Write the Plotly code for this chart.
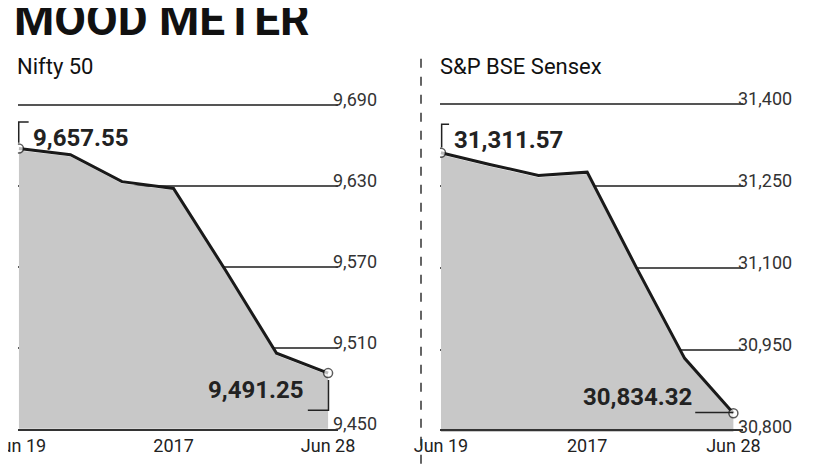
import plotly.graph_objects as go

dates = ["Jun 19", "Jun 20", "Jun 21", "Jun 22", "Jun 23", "Jun 27", "Jun 28"]
nifty = [9657.55, 9653, 9633, 9628, 9568, 9506, 9491.25]
sensex = [31311.57, 31290, 31270, 31276, 31103, 30935, 30834.32]
nifty_ticks = [9450, 9510, 9570, 9630, 9690]
sensex_ticks = [30800, 30950, 31100, 31250, 31400]
xtick_vals = ["Jun 19", "Jun 22", "Jun 28"]
xtick_text = ["Jun 19", "2017", "Jun 28"]

F = "Roboto, Liberation Sans, sans-serif"
fig = go.Figure()
for i, (vals, ticks) in enumerate([(nifty, nifty_ticks), (sensex, sensex_ticks)]):
    xa = "x" if i == 0 else "x2"
    ya = "y" if i == 0 else "y2"
    fig.add_trace(go.Scatter(x=dates, y=[v - (ticks[-1]-ticks[0])*0.006 for v in vals], xaxis=xa, yaxis=ya,
                             mode="lines", line=dict(color="rgba(0,0,0,0)", width=0),
                             fill="tozeroy", fillcolor="#c8c8c8", hoverinfo="skip"))
    fig.add_trace(go.Scatter(x=dates, y=vals, xaxis=xa, yaxis=ya, mode="lines+markers",
                             line=dict(color="#1a1a1a", width=3),
                             marker=dict(size=[9, 0, 0, 0, 0, 0, 9], color="white",
                                         line=dict(color="#1a1a1a", width=1.5))))
    for t in ticks:
        fig.add_annotation(x=6.05, y=t, xref=xa, yref=ya, text=f"{t:,}", showarrow=False,
                           xanchor="left", yanchor="bottom", yshift=-7,
                           font=dict(family=F, size=18, color="#333"))

common_x = dict(type="category", tickmode="array", tickvals=xtick_vals, ticktext=xtick_text,
                range=[-0.02, 6.2], showgrid=False, showline=True, linecolor="#333", linewidth=2,
                ticks="", automargin=False, tickfont=dict(family=F, size=18, color="#222"))
common_y = dict(showticklabels=False, ticks="", gridcolor="#555", gridwidth=1.5, zeroline=False,
                automargin=False)
fig.update_layout(
    width=826, height=465, margin=dict(l=0, r=0, t=0, b=0),
    paper_bgcolor="white", plot_bgcolor="white", showlegend=False,
    xaxis=dict(domain=[0.012, 0.4], **common_x),
    xaxis2=dict(domain=[0.523, 0.89], **common_x),
    yaxis=dict(domain=[0.095, 0.795], range=[9450, 9691], tickvals=nifty_ticks, **common_y),
    yaxis2=dict(domain=[0.088, 0.795], range=[30800, 31402], tickvals=sensex_ticks, anchor="x2", **common_y),
)
fig.add_annotation(x=0.005, y=1, xref="paper", yref="paper", text="<b>MOOD METER</b>", showarrow=False,
                   xanchor="left", yanchor="top", yshift=18, font=dict(family=F, size=46, color="#111"))
fig.add_annotation(x=0.008, y=0.875, xref="paper", yref="paper", text="Nifty 50", showarrow=False,
                   xanchor="left", yanchor="middle", font=dict(family=F, size=22, color="#111"))
fig.add_annotation(x=0.52, y=0.875, xref="paper", yref="paper", text="S&P BSE Sensex", showarrow=False,
                   xanchor="left", yanchor="middle", font=dict(family=F, size=22, color="#111"))
fig.add_annotation(x=0.005, y=0, xref="paper", yref="paper", text="Compiled by BS Research Bureau", showarrow=False,
                   xanchor="left", yanchor="top", yshift=8, font=dict(family=F, size=16, color="#222"))
fig.add_annotation(x=0.88, y=0, xref="paper", yref="paper", text="Source: Exchange", showarrow=False,
                   xanchor="right", yanchor="top", yshift=8, font=dict(family=F, size=16, color="#222"))
fig.add_shape(type="line", xref="paper", yref="paper", x0=0.5, x1=0.5, y0=0.02, y1=0.9,
              line=dict(color="#333", width=1.5, dash="dash"))
fig.add_annotation(x=0.028, y=0.755, xref="paper", yref="paper", text=f"<b>{nifty[0]:,.2f}</b>", showarrow=False,
                   xanchor="left", font=dict(family=F, size=24, color="#222"))
fig.add_shape(type="path", xref="paper", yref="paper", path="M 0.013 0.71 L 0.013 0.755 L 0.025 0.755",
              line=dict(color="#222", width=1.5))
fig.add_annotation(x=0.36, y=0.145, xref="paper", yref="paper", text=f"<b>{nifty[-1]:,.2f}</b>", showarrow=False,
                   xanchor="right", font=dict(family=F, size=24, color="#222"))
fig.add_shape(type="path", xref="paper", yref="paper", path="M 0.363 0.135 L 0.388 0.135 L 0.388 0.2",
              line=dict(color="#222", width=1.5))
fig.add_annotation(x=0.538, y=0.75, xref="paper", yref="paper", text=f"<b>{sensex[0]:,.2f}</b>", showarrow=False,
                   xanchor="left", font=dict(family=F, size=24, color="#222"))
fig.add_shape(type="path", xref="paper", yref="paper", path="M 0.525 0.7 L 0.525 0.75 L 0.534 0.75",
              line=dict(color="#222", width=1.5))
fig.add_annotation(x=0.83, y=0.13, xref="paper", yref="paper", text=f"<b>{sensex[-1]:,.2f}</b>", showarrow=False,
                   xanchor="right", font=dict(family=F, size=24, color="#222"))
fig.add_shape(type="line", xref="paper", yref="paper", x0=0.832, x1=0.878, y0=0.13, y1=0.13,
              line=dict(color="#222", width=1.5))
fig.write_html("out.html")
